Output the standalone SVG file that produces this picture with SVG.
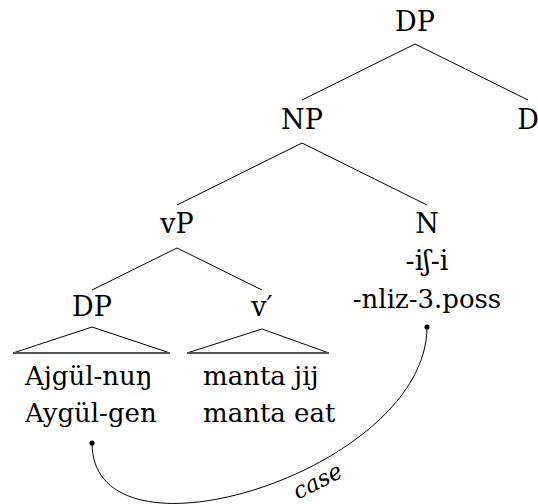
<svg xmlns="http://www.w3.org/2000/svg" width="538" height="504" viewBox="0 0 538 504">
  <rect width="538" height="504" fill="#fff"/>

  <g id="connectors" stroke="#000" stroke-width="1" fill="none">
    <line x1="415" y1="44" x2="302" y2="100"/>
    <line x1="415" y1="44" x2="528" y2="100"/>
    <line x1="302" y1="143" x2="177" y2="205"/>
    <line x1="302" y1="143" x2="427" y2="205"/>
    <line x1="177" y1="248" x2="92" y2="290"/>
    <line x1="177" y1="248" x2="262" y2="290"/>
    <path d="M92 443 C 92 575, 427 470, 427 327"/>
    <circle cx="92" cy="443" r="2.6" fill="#000" stroke="none"/>
    <circle cx="427" cy="327" r="2.6" fill="#000" stroke="none"/>
  </g>
  <g id="case-label">
    <text font-family="DejaVu Serif, serif" font-style="italic" font-size="23" text-anchor="middle" transform="translate(321 488) rotate(-27)">case</text>
  </g>

  <g id="DP-top">
    <text font-family="DejaVu Serif, serif" font-size="27" text-anchor="middle" x="415" y="31">DP</text>
  </g>
  <g id="NP">
    <text font-family="DejaVu Serif, serif" font-size="27" text-anchor="middle" x="302" y="129">NP</text>
  </g>
  <g id="D">
    <text font-family="DejaVu Serif, serif" font-size="27" text-anchor="middle" x="528" y="129">D</text>
  </g>
  <g id="vP">
    <text font-family="DejaVu Serif, serif" font-size="27" text-anchor="middle" x="177" y="233">vP</text>
  </g>
  <g id="N">
    <text font-family="DejaVu Serif, serif" font-size="27" text-anchor="middle" x="427" y="233">N</text>
    <text font-family="DejaVu Serif, serif" font-size="27" text-anchor="middle" x="427" y="270">-iʃ-i</text>
    <text font-family="DejaVu Serif, serif" font-size="26" text-anchor="middle" x="427" y="308">-nliz-3.poss</text>
  </g>
  <g id="DP-low">
    <text font-family="DejaVu Serif, serif" font-size="27" text-anchor="middle" x="92" y="316">DP</text>
    <path d="M13 353 L92 327 L170 353" stroke="#000" stroke-width="1" fill="none"/>
    <line x1="13" y1="353" x2="170" y2="353" stroke="#555" stroke-width="1.8"/>
    <text font-family="DejaVu Serif, serif" font-size="26" x="25" y="385">Ajgül-nuŋ</text>
    <text font-family="DejaVu Serif, serif" font-size="26" x="25" y="422">Aygül-gen</text>
  </g>
  <g id="vbar">
    <text font-family="DejaVu Serif, serif" font-size="27" text-anchor="middle" x="262" y="316">v′</text>
    <path d="M187 353 L262 329 L329 353" stroke="#000" stroke-width="1" fill="none"/>
    <line x1="187" y1="353" x2="329" y2="353" stroke="#555" stroke-width="1.8"/>
    <text font-family="DejaVu Serif, serif" font-size="26" x="203" y="385">manta jij</text>
    <text font-family="DejaVu Serif, serif" font-size="26" x="203" y="422">manta eat</text>
  </g>
</svg>
